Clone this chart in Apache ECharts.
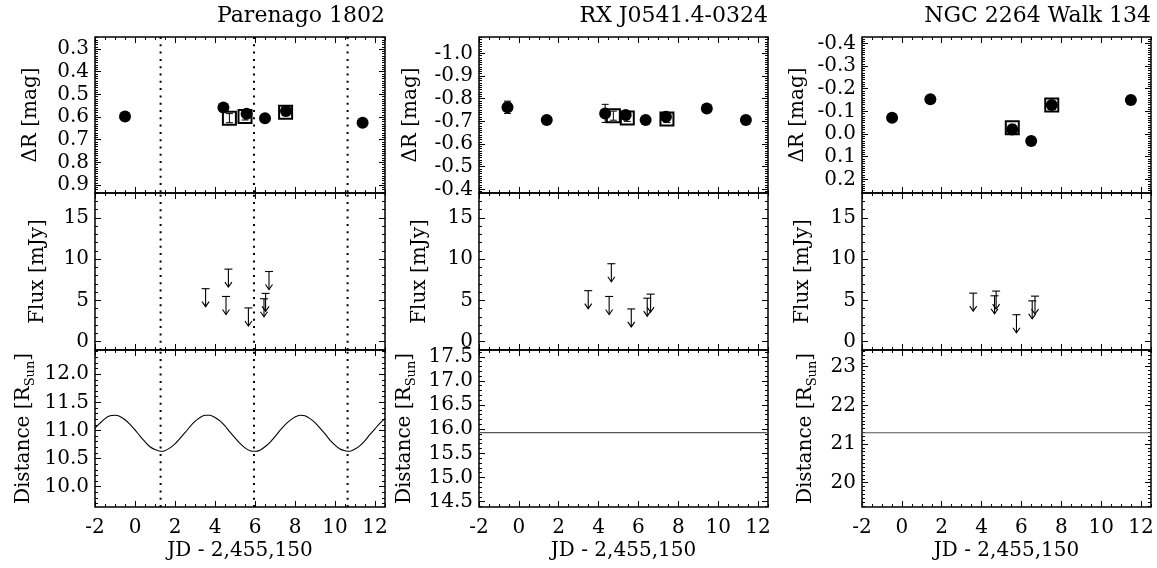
<!DOCTYPE html>
<html>
<head>
<meta charset="utf-8">
<script src="https://cdn.jsdelivr.net/npm/echarts@6.0.0/dist/echarts.min.js"></script>
<style>
  html, body { margin: 0; padding: 0; background: #fff; }
  #chart { width: 1157px; height: 568px; }
</style>
</head>
<body>
<div id="chart"></div>
<script>
// ---- data ----
var titles = ['Parenago 1802', 'RX J0541.4-0324', 'NGC 2264 Walk 134'];
var xRange = [-2, 12.5];
var xTicks = [-2, 0, 2, 4, 6, 8, 10, 12];
var periastron = [1.28, 5.95, 10.63];   // dotted lines, Parenago 1802 only

// ΔR photometry [JD, mag, err]
var parDots = [[-0.5, 0.598, 0.01], [4.42, 0.558, 0.01], [5.58, 0.586, 0.01], [6.5, 0.605, 0.01], [7.55, 0.573, 0.01], [11.38, 0.625, 0.01]];
var parBoxes = [[4.72, 0.605, 0.02], [5.5, 0.598, 0.015], [7.53, 0.579, 0.015]];
var rxDots = [[-0.57, -0.762, 0.027], [1.40, -0.706, 0.01], [4.33, -0.735, 0.04], [5.36, -0.728, 0.01], [6.36, -0.706, 0.01], [7.38, -0.72, 0.01], [9.43, -0.757, 0.01], [11.39, -0.706, 0.01]];
var rxBoxes = [[4.74, -0.725, 0.02], [5.44, -0.715, 0.015], [7.43, -0.71, 0.015]];
var ngcDots = [[-0.49, -0.072, 0.01], [1.43, -0.153, 0.01], [5.54, -0.02, 0.01], [6.49, 0.031, 0.01], [7.52, -0.128, 0.01], [11.49, -0.15, 0.01]];
var ngcBoxes = [[5.54, -0.028, 0.015], [7.52, -0.128, 0.015]];

// flux upper limits [JD, mJy]
var parLimits = [[3.53, 6.42], [4.67, 8.79], [4.55, 5.48], [5.67, 4.09], [6.7, 8.5], [6.53, 5.85], [6.45, 5.2]];
var rxLimits = [[3.48, 6.18], [4.64, 9.44], [4.53, 5.48], [5.64, 3.97], [6.44, 5.27], [6.61, 5.76]];
var ngcLimits = [[3.58, 5.88], [4.65, 5.56], [4.73, 6.13], [5.75, 3.27], [6.54, 4.95], [6.68, 5.52]];

// stellar separation [R_Sun], Parenago 1802 read every 0.25 d
var sepJD = [-2, -1.75, -1.5, -1.25, -1, -0.75, -0.5, -0.25, 0, 0.25, 0.5, 0.75, 1, 1.25, 1.5, 1.75, 2, 2.25, 2.5, 2.75,
  3, 3.25, 3.5, 3.75, 4, 4.25, 4.5, 4.75, 5, 5.25, 5.5, 5.75, 6, 6.25, 6.5, 6.75, 7, 7.25, 7.5, 7.75,
  8, 8.25, 8.5, 8.75, 9, 9.25, 9.5, 9.75, 10, 10.25, 10.5, 10.75, 11, 11.25, 11.5, 11.75, 12, 12.25, 12.5];
var parSep = [11.04, 11.13, 11.21, 11.26, 11.27, 11.25, 11.19, 11.11, 11.01, 10.90, 10.80, 10.71, 10.66, 10.63, 10.64, 10.69, 10.76, 10.86, 10.96, 11.07,
  11.16, 11.23, 11.27, 11.27, 11.23, 11.17, 11.08, 10.97, 10.87, 10.77, 10.69, 10.64, 10.63, 10.65, 10.71, 10.79, 10.89, 11.00, 11.10, 11.18,
  11.24, 11.27, 11.26, 11.21, 11.14, 11.04, 10.94, 10.83, 10.74, 10.67, 10.64, 10.63, 10.67, 10.73, 10.82, 10.93, 11.03, 11.13, 11.21];
var rxSep = 15.93;
var ngcSep = 21.29;

// axis ticks and ranges
var magTicks = [[0.3, 0.4, 0.5, 0.6, 0.7, 0.8, 0.9], [-1.0, -0.9, -0.8, -0.7, -0.6, -0.5, -0.4], [-0.4, -0.3, -0.2, -0.1, 0.0, 0.1, 0.2]];
var magRange = [[0.247, 0.935], [-1.072, -0.384], [-0.428, 0.26]];
var fluxTicks = [0, 5, 10, 15];
var fluxRange = [-1, 18];
var sepTicks = [[10.0, 10.5, 11.0, 11.5, 12.0], [14.5, 15.0, 15.5, 16.0, 16.5, 17.0, 17.5], [20, 21, 22, 23]];
var sepRange = [[9.64, 12.43], [14.39, 17.64], [19.37, 23.43]];

// ---- layout ----
var FONT = 'DejaVu Serif';
var colLeft = [95, 479, 862], colWidth = [290, 289, 289];
var rowTop = [37, 193, 350], rowHeight = [156, 157, 157];

var dots = [parDots, rxDots, ngcDots];
var boxes = [parBoxes, rxBoxes, ngcBoxes];
var limits = [parLimits, rxLimits, ngcLimits];

function minorValues(lo, hi, step, major) {
  var out = [];
  for (var k = Math.ceil(lo / step - 1e-9); k * step <= hi + 1e-9; k++) {
    var v = +(k * step).toFixed(6);
    var hit = major.some(function (m) { return Math.abs(m - v) < 1e-9; });
    if (!hit) out.push(v);
  }
  return out;
}

function makeAxis(g, pos, range, values, len, label, inverse) {
  return {
    type: 'value', gridIndex: g, position: pos, min: range[0], max: range[1], inverse: !!inverse,
    axisLine: { show: false, onZero: false },
    splitLine: { show: false },
    axisTick: { show: true, inside: true, length: len, customValues: values, lineStyle: { color: '#000', width: 1 } },
    axisLabel: label ? Object.assign({ show: true, customValues: values }, label) : { show: false }
  };
}

function fmt(d) { return function (v) { return Number(v).toFixed(d); }; }

var grids = [], xAxes = [], yAxes = [], series = [];
var xMinor = minorValues(xRange[0], xRange[1], 0.5, xTicks);

for (var r = 0; r < 3; r++) {
  for (var c = 0; c < 3; c++) {
    var g = r * 3 + c;
    grids.push({ left: colLeft[c], top: rowTop[r], width: colWidth[c], height: rowHeight[r],
      show: true, borderColor: '#000', borderWidth: 1.5, backgroundColor: 'transparent' });

    // x axes: bottom major, bottom minor, top major, top minor
    var xl = null;
    if (r === 2) xl = { fontFamily: FONT, fontSize: 20, color: '#000', margin: 11, formatter: fmt(0) };
    var xb = makeAxis(g, 'bottom', xRange, xTicks, 6, xl);
    if (r === 2) {
      xb.name = 'JD - 2,455,150';
      xb.nameLocation = 'middle';
      xb.nameGap = 34;
      xb.nameTextStyle = { fontFamily: FONT, fontSize: 20, color: '#000' };
    }
    xAxes.push(xb);
    xAxes.push(makeAxis(g, 'bottom', xRange, xMinor, 3));
    xAxes.push(makeAxis(g, 'top', xRange, xTicks, 6));
    xAxes.push(makeAxis(g, 'top', xRange, xMinor, 3));

    // y axes
    var range, major, step, dec, inv = false, name, gap, rich = null;
    if (r === 0) {
      range = magRange[c]; major = magTicks[c]; step = 0.01; dec = 1; inv = true;
      name = 'ΔR [mag]'; gap = [51, 55, 51][c];
    } else if (r === 1) {
      range = fluxRange; major = fluxTicks; step = 1; dec = 0;
      name = 'Flux [mJy]'; gap = [44, 46, 46][c];
    } else {
      range = sepRange[c]; major = sepTicks[c]; step = 0.1; dec = [1, 1, 0][c];
      name = 'Distance [R{sub|Sun}]'; gap = [58, 61, 43][c];
      rich = { sub: { fontFamily: FONT, fontSize: 13, color: '#000', verticalAlign: 'bottom' } };
    }
    var yMinor = minorValues(range[0], range[1], step, major);
    var yl = makeAxis(g, 'left', range, major, 6,
      { fontFamily: FONT, fontSize: 20, color: '#000', margin: 6, formatter: fmt(dec) }, inv);
    yl.name = name;
    yl.nameLocation = 'middle';
    yl.nameRotate = 90;
    yl.nameGap = gap;
    yl.nameTextStyle = { fontFamily: FONT, fontSize: 20, color: '#000', lineHeight: 27 };
    if (rich) yl.nameTextStyle.rich = rich;
    yAxes.push(yl);
    yAxes.push(makeAxis(g, 'left', range, yMinor, 3, null, inv));
    yAxes.push(makeAxis(g, 'right', range, major, 6, null, inv));
    yAxes.push(makeAxis(g, 'right', range, yMinor, 3, null, inv));

    var xi = g * 4, yi = g * 4;

    if (r === 0) {
      series.push({
        type: 'custom', xAxisIndex: xi, yAxisIndex: yi, z: 2,
        data: dots[c].concat(boxes[c]),
        encode: { x: 0, y: 1 },
        renderItem: function (params, api) {
          var x = api.value(0), y = api.value(1), e = api.value(2);
          var lo = api.coord([x, y - e]), hi = api.coord([x, y + e]);
          var st = { stroke: '#000', lineWidth: 1 };
          return { type: 'group', children: [
            { type: 'line', shape: { x1: lo[0], y1: lo[1], x2: hi[0], y2: hi[1] }, style: st },
            { type: 'line', shape: { x1: lo[0] - 3.5, y1: lo[1], x2: lo[0] + 3.5, y2: lo[1] }, style: st },
            { type: 'line', shape: { x1: hi[0] - 3.5, y1: hi[1], x2: hi[0] + 3.5, y2: hi[1] }, style: st }
          ] };
        }
      });
      series.push({
        type: 'scatter', xAxisIndex: xi, yAxisIndex: yi, z: 3,
        symbol: 'circle', symbolSize: 12,
        itemStyle: { color: '#000', opacity: 1 },
        data: dots[c].map(function (d) { return [d[0], d[1]]; })
      });
      series.push({
        type: 'scatter', xAxisIndex: xi, yAxisIndex: yi, z: 4,
        symbol: 'rect', symbolSize: 13,
        itemStyle: { color: 'rgba(0,0,0,0)', borderColor: '#000', borderWidth: 2, opacity: 1 },
        data: boxes[c].map(function (d) { return [d[0], d[1]]; })
      });
    } else if (r === 1) {
      series.push({
        type: 'custom', xAxisIndex: xi, yAxisIndex: yi, z: 3,
        data: limits[c],
        encode: { x: 0, y: 1 },
        renderItem: function (params, api) {
          var p = api.coord([api.value(0), api.value(1)]);
          var len = 18;
          var st = { stroke: '#000', lineWidth: 1.1, fill: null };
          return { type: 'group', children: [
            { type: 'line', shape: { x1: p[0] - 4, y1: p[1], x2: p[0] + 4, y2: p[1] }, style: st },
            { type: 'line', shape: { x1: p[0], y1: p[1], x2: p[0], y2: p[1] + len }, style: st },
            { type: 'polyline', shape: { points: [[p[0] - 3.5, p[1] + len - 5], [p[0], p[1] + len], [p[0] + 3.5, p[1] + len - 5]] }, style: st }
          ] };
        }
      });
    } else {
      var sepData;
      if (c === 0) sepData = sepJD.map(function (x, i) { return [x, parSep[i]]; });
      else {
        var lvl = c === 1 ? rxSep : ngcSep;
        sepData = [[xRange[0], lvl], [xRange[1], lvl]];
      }
      series.push({
        type: 'line', xAxisIndex: xi, yAxisIndex: yi, z: 3,
        data: sepData, smooth: c === 0 ? 0.3 : false,
        symbol: 'none', showSymbol: false,
        lineStyle: { color: c === 0 ? '#000' : '#555', width: 1.1 }
      });
    }

    if (c === 0) {
      periastron.forEach(function (px) {
        series.push({
          type: 'line', xAxisIndex: xi, yAxisIndex: yi, z: 1,
          data: [[px, range[0]], [px, range[1]]],
          symbol: 'none', showSymbol: false,
          lineStyle: { color: '#000', width: 2, type: [2, 5.3] }
        });
      });
    }
  }
}

var option = {
  animation: false,
  backgroundColor: '#fff',
  title: titles.map(function (t, c) {
    return { text: t, right: 1157 - (colLeft[c] + colWidth[c]), top: 5, padding: 0,
      textStyle: { fontFamily: FONT, fontSize: 22, fontWeight: 'normal', color: '#000' } };
  }),
  grid: grids,
  xAxis: xAxes,
  yAxis: yAxes,
  series: series
};

var myChart = echarts.init(document.getElementById('chart'));
myChart.setOption(option);
</script>
</body>
</html>
